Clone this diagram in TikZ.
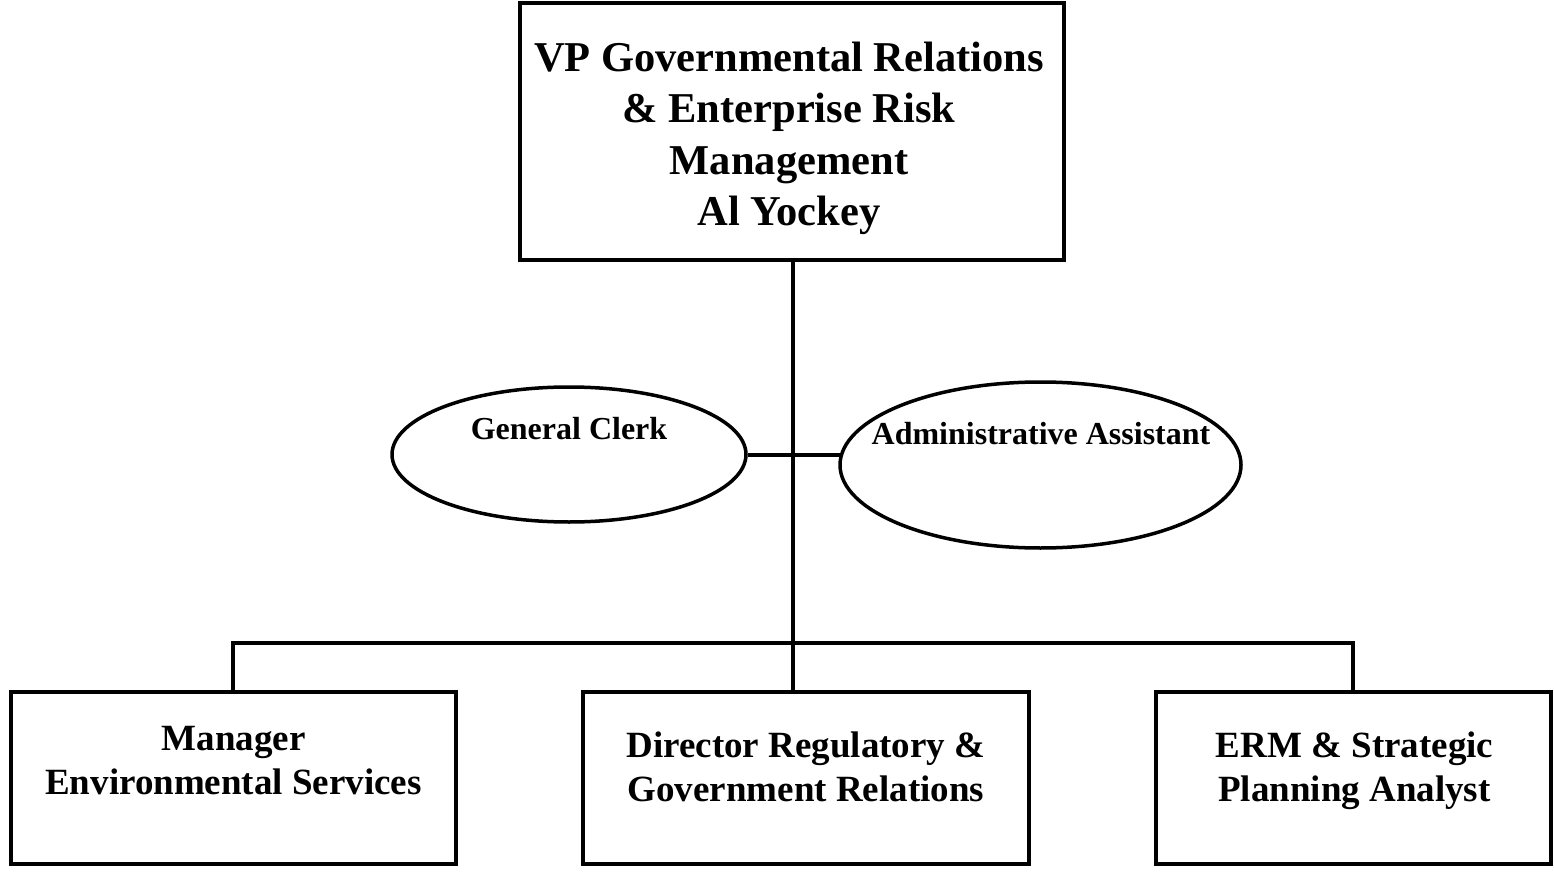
\documentclass[tikz,border=0pt]{standalone}
\usepackage{fontspec}
\setmainfont{Liberation Serif}
\usetikzlibrary{shapes.geometric}
\begin{document}
\begin{tikzpicture}[x=1pt,y=-1pt,
  box/.style={draw,line width=4pt,rectangle,inner sep=0pt},
  oval/.style={draw,line width=3.5pt,ellipse,inner sep=0pt},
  conn/.style={line width=4pt},
  toptext/.style={align=center,font=\fontsize{42.5}{51.5}\selectfont\bfseries,inner sep=0pt},
  bottext/.style={align=center,font=\fontsize{37}{44}\selectfont\bfseries,inner sep=0pt},
  ovtext/.style={align=center,font=\fontsize{32}{38}\selectfont\bfseries,inner sep=0pt}]
\useasboundingbox (0,0) rectangle (1554,874);
\fill[white] (0,0) rectangle (1554,874);
% top box
\node[box,minimum width=544pt,minimum height=257pt] (top) at (792,131.5) {};
\node[toptext] (toptxt) at (789,138.5) {VP Governmental Relations\\\& Enterprise Risk\\Management\\Al Yockey};
% ellipses
\node[oval,minimum width=354pt,minimum height=135pt] (gc) at (569,454.5) {};
\node[ovtext] (gctxt) at (569,429) {General Clerk};
\node[oval,minimum width=401pt,minimum height=166pt] (aa) at (1040.5,465) {};
\node[ovtext] (aatxt) at (1041,434) {Administrative Assistant};
% bottom boxes
\node[box,minimum width=445pt,minimum height=172pt] (mes) at (233.5,778) {};
\node[bottext] (mestxt) at (233.5,760.5) {Manager\\Environmental Services};
\node[box,minimum width=446pt,minimum height=172pt] (drg) at (806,778) {};
\node[bottext] (drgtxt) at (806,767) {Director Regulatory \&\\Government Relations};
\node[box,minimum width=395pt,minimum height=172pt] (erm) at (1353.5,778) {};
\node[bottext] (ermtxt) at (1354.5,771) {ERM \& Strategic\\Planning Analyst};
% connectors
\coordinate (trunk) at (793,643);
\coordinate (aaw) at ([xshift=3pt]aa.west);
\draw[conn] (top.south -| trunk) -- (drg.north -| trunk);
\draw[conn] (gc.east) -- (gc.east -| aaw);
\draw[conn] (mes.north -| 233,0) -- (233,643) -- (1353,643) -- (erm.north -| 1353,0);
\end{tikzpicture}
\end{document}
